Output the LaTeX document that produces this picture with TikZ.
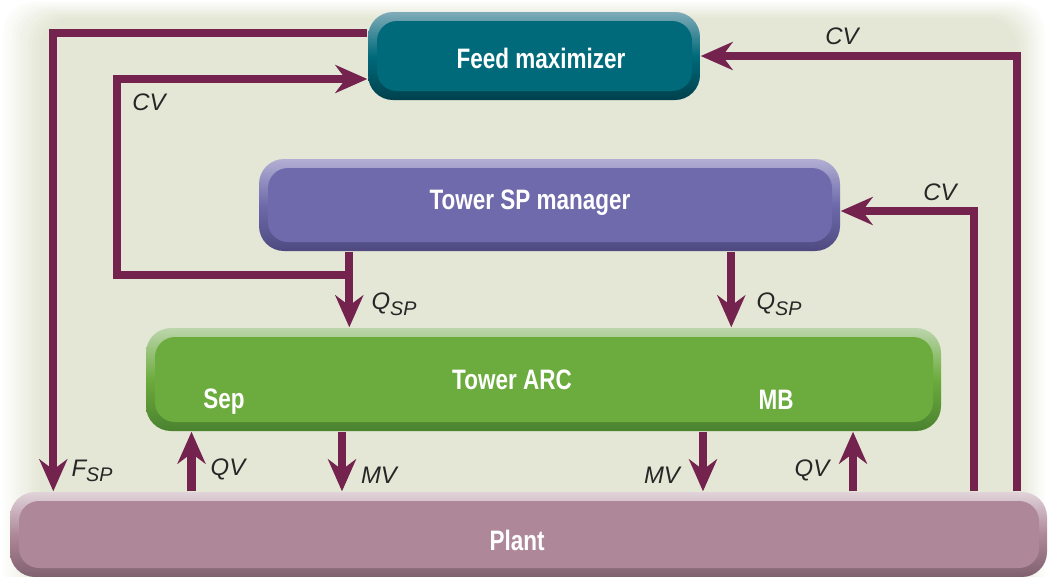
\documentclass[tikz,border=0pt]{standalone}
\usepackage{fontspec}
\setmainfont{Liberation Sans}
\newfontfamily\boxfont[FakeStretch=0.8]{Liberation Sans}
\usetikzlibrary{arrows.meta,positioning,calc,backgrounds}
\definecolor{bgfill}{HTML}{E4E7D5}
\definecolor{plumline}{HTML}{74234F}
\definecolor{fmface}{HTML}{006A7A}
\definecolor{fmlight}{HTML}{80ABB8}
\definecolor{fmdark}{HTML}{00404D}
\definecolor{tspface}{HTML}{6E6AAB}
\definecolor{tsplight}{HTML}{B2AFD4}
\definecolor{tspdark}{HTML}{4E4A80}
\definecolor{arcface}{HTML}{6CAB3D}
\definecolor{arclight}{HTML}{BCD6AC}
\definecolor{arcdark}{HTML}{4A822F}
\definecolor{plantface}{HTML}{AE8899}
\definecolor{plantlight}{HTML}{E1D3DA}
\definecolor{plantdark}{HTML}{80606F}
\newcommand\lowsub[1]{\raisebox{-0.45ex}{\fontsize{5.6pt}{6pt}\selectfont#1}}

\begin{document}
\begin{tikzpicture}[
  every node/.style={font=\fontsize{6.8pt}{8pt}\selectfont\itshape, text=black!85},
  title/.style={font=\boxfont\bfseries\fontsize{8pt}{9pt}\selectfont, text=white},
  bevel/.style n args={3}{rounded corners=2.5mm, top color=#2, bottom color=#3, middle color=#1, inner sep=0pt,
    path picture={\fill[#1, rounded corners=2mm] ([shift={(0.09,-0.09)}]path picture bounding box.north west) rectangle ([shift={(-0.08,0.09)}]path picture bounding box.south east);}},
  flow/.style={draw=plumline, line width=2.3pt, -{Stealth[length=3.2mm, width=2.8mm]}}
]
  \useasboundingbox (0,0) rectangle (10.48,5.76);
  % backdrop, fading to white towards the edges
  \begin{scope}[on background layer]
    \fill[white] (0,0) rectangle (10.48,5.76);
    \foreach \k [evaluate=\k as \pct using int(10*\k)] in {1,...,10}
      \fill[bgfill!\pct!white, rounded corners=3mm] (0.04*\k,-0.5) rectangle (10.48-0.03*\k,5.76-0.018*\k);
  \end{scope}

  % blocks
  \node[bevel={fmface}{fmlight}{fmdark}, minimum width=3.32cm, minimum height=0.88cm] (fm) at (5.34,5.20) {};
  \node[bevel={tspface}{tsplight}{tspdark}, minimum width=5.81cm, minimum height=0.92cm] (tsp) at (5.495,3.71) {};
  \node[bevel={arcface}{arclight}{arcdark}, minimum width=7.95cm, minimum height=1.03cm] (arc) at (5.435,1.965) {};
  \node[bevel={plantface}{plantlight}{plantdark}, minimum width=10.37cm, minimum height=0.85cm] (plant) at (5.285,0.415) {};

  \node[title] (fmtxt) at (5.41,5.18) {Feed maximizer};
  \node[title] (tsptxt) at (5.30,3.73) {Tower SP manager};
  \node[title] (arctxt) at (5.12,1.96) {Tower ARC};
  \node[title] (septxt) at (2.24,1.74) {Sep};
  \node[title] (mbtxt) at (7.76,1.765) {MB};
  \node[title] (planttxt) at (5.17,0.36) {Plant};

  % signal lines
  \coordinate (qa) at ([xshift=0.91cm]tsp.south west);
  \coordinate (qb) at ([xshift=4.73cm]tsp.south west);
  \coordinate (jl) at ([yshift=-0.23cm]qa);
  \coordinate (cvl) at ([yshift=-0.23cm]fm.west);
  \coordinate (qvl) at (1.915,0);
  \coordinate (mvl) at (3.42,0);
  \coordinate (mvr) at (7.03,0);
  \coordinate (qvr) at (8.53,0);
  \begin{scope}[on background layer]
    \draw[flow] ([yshift=0.23cm]fm.west) -| ([xshift=0.44cm]plant.north west);
    \draw[flow] (qa) -- (qa |- arc.north);
    \draw[flow] (jl) -| ($(cvl)+(-2.50,0)$) -- (cvl);
    \draw[flow] (qb) -- (qb |- arc.north);
    \draw[flow] ([xshift=-0.31cm]plant.north east) |- (fm.east);
    \draw[flow] ([xshift=-0.74cm]plant.north east) |- ([yshift=-0.06cm]tsp.east);
    \draw[flow] (qvl |- plant.north) -- (qvl |- arc.south);
    \draw[flow] (mvl |- arc.south) -- (mvl |- plant.north);
    \draw[flow] (mvr |- arc.south) -- (mvr |- plant.north);
    \draw[flow] (qvr |- plant.north) -- (qvr |- arc.south);
  \end{scope}

  % signal names
  \node (fsplbl) at (0.92,1.05) {F\lowsub{SP}};
  \node (cvllbl) at (1.49,4.74) {CV};
  \node (qalbl) at (3.94,2.72) {Q\lowsub{SP}};
  \node (qblbl) at (7.79,2.72) {Q\lowsub{SP}};
  \node (cvtlbl) at (8.42,5.40) {CV};
  \node (cvmlbl) at (9.40,3.84) {CV};
  \node (qvllbl) at (2.28,1.07) {QV};
  \node (mvllbl) at (3.79,1.01) {MV};
  \node (mvrlbl) at (6.62,1.01) {MV};
  \node (qvrlbl) at (8.12,1.06) {QV};
\end{tikzpicture}
\end{document}
